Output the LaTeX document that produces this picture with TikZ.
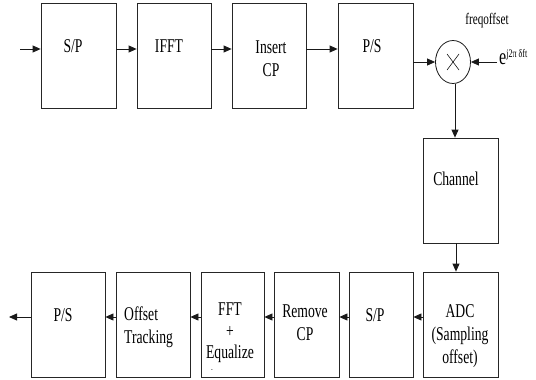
\documentclass[tikz,border=0pt]{standalone}
\usepackage{fontspec}
\setmainfont[FakeStretch=0.7]{Liberation Serif}
\usetikzlibrary{arrows.meta,shapes.geometric}
\begin{document}
\begin{tikzpicture}[x=1pt,y=-1pt,
  blk/.style={draw=black!85, line width=0.8pt, inner sep=0pt, minimum height=105pt},
  txt/.style={inner sep=0pt, font=\fontsize{19.5}{23}\selectfont, align=center},
  arr/.style={-{Triangle[length=8pt,width=7pt]}, line width=0.8pt, draw=black!90},
  ln/.style={line width=0.8pt, draw=black!90}]
\useasboundingbox (0,0) rectangle (536,380);
% top row
\node[blk, minimum width=75pt] (sp1) at (78.5,55.5) {};
\node[blk, minimum width=74pt] (ifft) at (174,55.5) {};
\node[blk, minimum width=74pt] (icp) at (269,55.5) {};
\node[blk, minimum width=75pt] (ps1) at (375.5,55.5) {};
\node[draw=black!90, line width=0.8pt, ellipse, minimum width=35pt, minimum height=43pt, inner sep=0pt,
  path picture={\draw[line width=0.6pt] ([shift={(-6pt,-8pt)}]path picture bounding box.center) -- ([shift={(6pt,8pt)}]path picture bounding box.center);
                \draw[line width=0.6pt] ([shift={(6pt,-8pt)}]path picture bounding box.center) -- ([shift={(-6pt,8pt)}]path picture bounding box.center);}] (mix) at (453,62) {};
% channel
\node[blk, minimum width=75pt] (chan) at (460.5,190.5) {};
% bottom row
\node[blk, minimum width=75pt] (adc) at (460.5,324.5) {};
\node[blk, minimum width=64pt] (sp2) at (381,324.5) {};
\node[blk, minimum width=65pt] (rcp) at (306.5,324.5) {};
\node[blk, minimum width=63pt] (fft) at (232.5,324.5) {};
\node[blk, minimum width=74pt] (ot) at (153,324.5) {};
\node[blk, minimum width=74pt] (ps2) at (68,324.5) {};
% texts
\node[txt] (t1) at (73,46) {S/P};
\node[txt] (t2) at (169,46) {IFFT};
\node[txt] (t3) at (271,59) {Insert\\CP};
\node[txt] (t4) at (372,46) {P/S};
\node[txt] (t5) at (456,179) {Channel};
\node[txt] (t6) at (460,336) {ADC\\(Sampling\\offset)};
\node[txt] (t7) at (375,315) {S/P};
\node[txt] (t8) at (305,323) {Remove\\CP};
\node[txt, font=\fontsize{19.5}{21.5}\selectfont] (t9) at (230,333) {FFT\\+\\Equalize};
\node[inner sep=0pt, font=\fontsize{7}{7}\selectfont] (t9b) at (212,371) {-};
\node[txt, align=left, anchor=west] (t10) at (124,327) {Offset\\Tracking};
\node[txt] (t11) at (63,315) {P/S};
\node[inner sep=0pt, font=\fontsize{16}{16}\selectfont, anchor=base] (fo) at (487,24) {freqoffset};
\node[inner sep=0pt, font=\fontsize{23}{23}\selectfont, anchor=base west] (ex) at (499,64) {e\raisebox{7pt}{\fontsize{11.5}{11.5}\selectfont j2π δft}};
% coordinates
\coordinate (in) at (20,49);
\coordinate (rin) at (497,62);
\coordinate (out) at (9,317);
% top arrows
\draw[arr] (in) -- (in -| sp1.west);
\draw[arr] ([yshift=6.5pt]sp1.east) -- ([yshift=6.5pt]ifft.west);
\draw[arr] ([yshift=6.5pt]ifft.east) -- ([yshift=6.5pt]icp.west);
\draw[arr] ([yshift=6.5pt]icp.east) -- ([yshift=6.5pt]ps1.west);
\draw[arr] (mix.west -| ps1.east) -- (mix.west);
\draw[arr] (rin) -- (mix.east);
\draw[arr] ([xshift=2pt]mix.south) -- ([xshift=2pt]mix.south |- chan.north);
\draw[arr] ([xshift=-4.5pt]chan.south) -- ([xshift=-4.5pt]adc.north);
% bottom arrows
\draw[arr] ([yshift=7.5pt]adc.west) -- ([yshift=7.5pt]sp2.east);
\draw[arr] ([yshift=7.5pt]sp2.west) -- ([yshift=7.5pt]rcp.east);
\draw[arr] ([yshift=7.5pt]rcp.west) -- ([yshift=7.5pt]fft.east);
\draw[arr] ([yshift=7.5pt]fft.west) -- ([yshift=7.5pt]ot.east);
\draw[arr] ([yshift=7.5pt]ot.west) -- ([yshift=7.5pt]ps2.east);
\draw[arr] ([yshift=7.5pt]ps2.west) -- (out);
\end{tikzpicture}
\end{document}
